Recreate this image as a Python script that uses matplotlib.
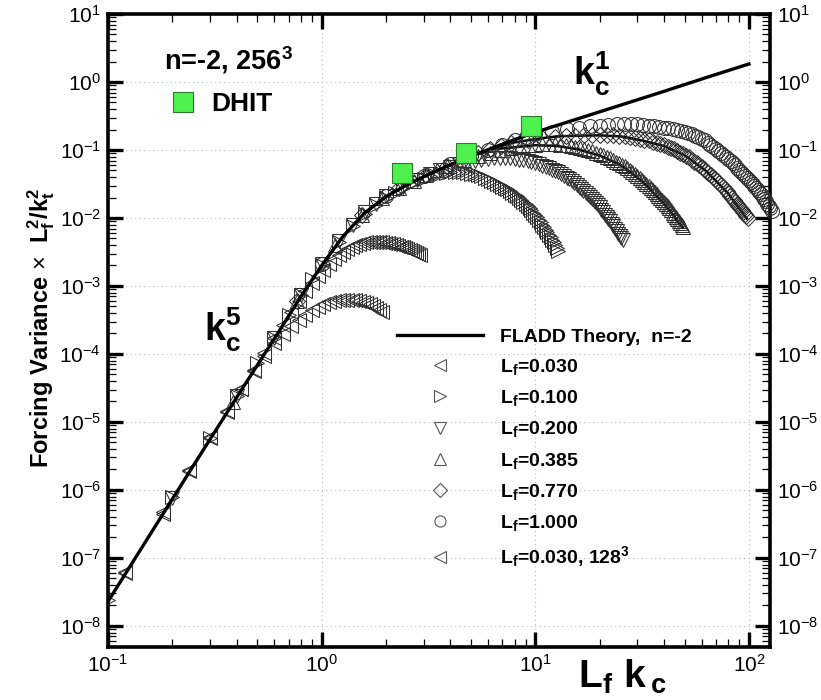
import numpy as np
import matplotlib
matplotlib.use("Agg")
import matplotlib.pyplot as plt
from matplotlib.lines import Line2D
from matplotlib import ticker

plt.rcParams['font.family'] = ['Liberation Sans', 'DejaVu Sans']
plt.rcParams['mathtext.fontset'] = 'custom'
plt.rcParams['mathtext.rm'] = 'Liberation Sans'
plt.rcParams['mathtext.it'] = 'Liberation Sans:italic'
plt.rcParams['mathtext.bf'] = 'Liberation Sans:bold'

# FLADD theory (log10 x, log10 y), infinite resolution
theory_logx = [-1.0, -0.8, -0.6, -0.4, -0.3, -0.2, -0.1, 0.0, 0.1, 0.2, 0.3, 0.4,
               0.5, 0.6, 0.7, 0.8, 0.9, 1.0, 1.2, 1.4, 1.6, 1.8, 2.0]
theory_logy = [-7.64, -6.64, -5.64, -4.65, -4.16, -3.67, -3.17, -2.70, -2.27, -1.93,
               -1.69, -1.51, -1.36, -1.22, -1.09, -0.97, -0.85, -0.74, -0.54, -0.34,
               -0.14, 0.065, 0.265]
# FLADD theory at 256^3 for Lf = 0.385 and 0.770
theory385_logx = [0.8, 0.9, 1.0, 1.1, 1.2, 1.3, 1.4, 1.5, 1.6, 1.69]
theory385_logy = [-0.99, -0.96, -0.93, -0.94, -0.99, -1.08, -1.22, -1.46, -1.78, -2.14]
theory770_logx = [0.8, 0.9, 1.0, 1.1, 1.2, 1.3, 1.4, 1.5, 1.6, 1.7, 1.8, 1.9, 1.99]
theory770_logy = [-0.98, -0.89, -0.84, -0.80, -0.79, -0.785, -0.80, -0.86, -0.94,
                  -1.08, -1.31, -1.63, -2.01]

# wavenumber shells kept from the 256^3 runs
kc_256 = np.r_[1:11, 12:129:2]
# Lf = 0.030 runs were sampled on even shells
kc_030 = np.arange(4, 97, 2)
kc_030_128 = np.arange(4, 65, 2)

# log10 of forcing variance * Lf^2/kt^2 for each run
logfv_100 = [-7.62, -6.11, -5.23, -4.62, -4.14, -3.76, -3.43, -3.14, -2.90, -2.69,
             -2.36, -2.12, -1.94, -1.81, -1.71, -1.63, -1.56, -1.50, -1.46, -1.42,
             -1.39, -1.37, -1.35, -1.34, -1.33, -1.33, -1.33, -1.33, -1.34, -1.35,
             -1.36, -1.37, -1.39, -1.41, -1.43, -1.45, -1.47, -1.50, -1.52, -1.54,
             -1.56, -1.58, -1.61, -1.63, -1.66, -1.68, -1.71, -1.74, -1.77, -1.80,
             -1.83, -1.86, -1.89, -1.92, -1.96, -1.99, -2.03, -2.06, -2.10, -2.13,
             -2.17, -2.21, -2.25, -2.28, -2.32, -2.36, -2.40, -2.44, -2.48]
logfv_200 = [-6.12, -4.62, -3.76, -3.14, -2.68, -2.34, -2.10, -1.91, -1.79, -1.68,
             -1.54, -1.44, -1.36, -1.30, -1.25, -1.21, -1.18, -1.16, -1.14, -1.13,
             -1.12, -1.12, -1.12, -1.12, -1.13, -1.14, -1.15, -1.16, -1.18, -1.19,
             -1.21, -1.23, -1.25, -1.27, -1.29, -1.31, -1.33, -1.36, -1.38, -1.41,
             -1.43, -1.46, -1.49, -1.51, -1.54, -1.57, -1.60, -1.63, -1.66, -1.69,
             -1.72, -1.75, -1.78, -1.81, -1.84, -1.88, -1.91, -1.95, -1.98, -2.02,
             -2.05, -2.09, -2.12, -2.16, -2.19, -2.23, -2.26, -2.30, -2.33]
logfv_385 = [-4.70, -3.22, -2.40, -1.95, -1.71, -1.56, -1.45, -1.37, -1.30, -1.24,
             -1.15, -1.09, -1.04, -1.00, -0.97, -0.95, -0.93, -0.92, -0.91, -0.91,
             -0.91, -0.92, -0.93, -0.94, -0.96, -0.97, -0.99, -1.00, -1.02, -1.04,
             -1.06, -1.08, -1.10, -1.12, -1.14, -1.17, -1.19, -1.22, -1.24, -1.27,
             -1.30, -1.32, -1.35, -1.38, -1.41, -1.44, -1.47, -1.50, -1.53, -1.56,
             -1.59, -1.62, -1.65, -1.68, -1.71, -1.74, -1.77, -1.80, -1.83, -1.86,
             -1.89, -1.92, -1.95, -1.98, -2.01, -2.04, -2.07, -2.10, -2.13]
logfv_770 = [-3.22, -1.95, -1.56, -1.37, -1.23, -1.13, -1.05, -0.99, -0.94, -0.90,
             -0.85, -0.83, -0.81, -0.80, -0.79, -0.785, -0.78, -0.78, -0.78, -0.785,
             -0.79, -0.80, -0.81, -0.82, -0.835, -0.85, -0.86, -0.88, -0.90, -0.91,
             -0.93, -0.95, -0.97, -0.99, -1.01, -1.04, -1.06, -1.09, -1.11, -1.14,
             -1.17, -1.19, -1.22, -1.25, -1.28, -1.31, -1.34, -1.37, -1.40, -1.43,
             -1.46, -1.49, -1.52, -1.55, -1.58, -1.61, -1.64, -1.67, -1.70, -1.73,
             -1.76, -1.79, -1.82, -1.85, -1.88, -1.91, -1.94, -1.97, -2.00]
logfv_1000 = [-2.68, -1.68, -1.38, -1.21, -1.09, -1.00, -0.92, -0.86, -0.81, -0.77,
              -0.73, -0.695, -0.67, -0.65, -0.64, -0.63, -0.625, -0.62, -0.62, -0.625,
              -0.63, -0.64, -0.65, -0.66, -0.67, -0.68, -0.69, -0.70, -0.715, -0.73,
              -0.75, -0.77, -0.79, -0.81, -0.84, -0.86, -0.89, -0.92, -0.95, -0.98,
              -1.01, -1.04, -1.07, -1.10, -1.13, -1.16, -1.19, -1.22, -1.26, -1.29,
              -1.32, -1.35, -1.38, -1.41, -1.44, -1.47, -1.50, -1.53, -1.56, -1.59,
              -1.62, -1.65, -1.69, -1.72, -1.75, -1.79, -1.83, -1.86, -1.90]
logfv_030 = [-7.22, -6.35, -5.72, -5.23, -4.85, -4.52, -4.24, -3.99, -3.77, -3.57,
             -3.39, -3.22, -3.08, -2.96, -2.85, -2.76, -2.68, -2.61, -2.55, -2.50,
             -2.46, -2.43, -2.40, -2.38, -2.37, -2.36, -2.355, -2.35, -2.35, -2.355,
             -2.36, -2.365, -2.37, -2.38, -2.39, -2.40, -2.41, -2.42, -2.43, -2.445,
             -2.46, -2.47, -2.49, -2.505, -2.52, -2.535, -2.55]
logfv_030_128 = [-7.20, -6.33, -5.71, -5.22, -4.84, -4.52, -4.25, -4.03, -3.84, -3.70,
                 -3.59, -3.50, -3.42, -3.36, -3.31, -3.27, -3.24, -3.22, -3.21, -3.20,
                 -3.20, -3.205, -3.21, -3.22, -3.235, -3.25, -3.27, -3.29, -3.32, -3.35, -3.38]

# DHIT reference points
dhit_x = [2.37, 4.76, 9.53]
dhit_y = [0.0454, 0.0893, 0.228]

runs = [
    (0.030, kc_030, logfv_030, '<', 'L$_\\mathbf{f}$=0.030'),
    (0.100, kc_256, logfv_100, '>', 'L$_\\mathbf{f}$=0.100'),
    (0.200, kc_256, logfv_200, 'v', 'L$_\\mathbf{f}$=0.200'),
    (0.385, kc_256, logfv_385, '^', 'L$_\\mathbf{f}$=0.385'),
    (0.770, kc_256, logfv_770, 'D', 'L$_\\mathbf{f}$=0.770'),
    (1.000, kc_256, logfv_1000, 'o', 'L$_\\mathbf{f}$=1.000'),
    (0.030, kc_030_128, logfv_030_128, '<', 'L$_\\mathbf{f}$=0.030, 128$^\\mathbf{3}$'),
]

W, H = 821, 700
fig = plt.figure(figsize=(W / 100, H / 100), dpi=100)
ax = fig.add_axes([108 / W, 53 / H, 662 / W, 633 / H])
ax.set_xscale('log')
ax.set_yscale('log')
ax.set_xlim(0.1, 125.5)
ax.set_ylim(10 ** -8.31, 10)

ax.grid(True, which='major', linestyle=(0, (1, 3)), color='#bbbbbb', linewidth=0.8)
ax.set_axisbelow(True)

mark_col = '#303030'
ax.plot(10 ** np.array(theory_logx), 10 ** np.array(theory_logy), color='black', lw=2.4, zorder=4)
for tx, ty in [(theory385_logx, theory385_logy), (theory770_logx, theory770_logy)]:
    ax.plot(10 ** np.array(tx), 10 ** np.array(ty), color='black', lw=1.8, zorder=2)

handles = [Line2D([], [], color='black', lw=2.4)]
labels = ['FLADD Theory,  n=-2']
for lf, kc, logfv, mk, lab in runs:
    ms = 8.5 if mk == 'D' else 10
    ax.plot(lf * kc, 10 ** np.array(logfv), ls='none', marker=mk, ms=ms, mfc='none',
            mec=mark_col, mew=0.75, zorder=3, clip_on=(lf != 1.0))
    handles.append(Line2D([], [], ls='none', marker=mk, ms=8 if mk != 'D' else 7,
                          mfc='none', mec='#555555', mew=0.8))
    labels.append(lab)

ax.plot(dhit_x, dhit_y, ls='none', marker='s', ms=14, mfc='#4df04d', mec='#2f7a2f',
        mew=0.8, zorder=6)

# axes styling
for sp in ax.spines.values():
    sp.set_linewidth(2.6)
ax.tick_params(which='both', direction='in', top=True, right=True,
               labelright=True, labelsize=15, pad=5)
ax.tick_params(which='major', length=11, width=2.4)
ax.tick_params(which='minor', length=5.5, width=0.9)
ax.xaxis.set_major_locator(ticker.FixedLocator(10.0 ** np.arange(-1, 3)))
ax.yaxis.set_major_locator(ticker.FixedLocator(10.0 ** np.arange(-8, 2)))
ax.yaxis.set_minor_locator(ticker.LogLocator(base=10, subs=np.arange(2, 10), numticks=20))
ax.yaxis.set_minor_formatter(ticker.NullFormatter())
ax.xaxis.set_minor_formatter(ticker.NullFormatter())
ax.xaxis.set_major_formatter(ticker.LogFormatterSciNotation())
ax.yaxis.set_major_formatter(ticker.LogFormatterSciNotation())

fig.text(578 / W, 1 - 688 / H, 'L$_\\mathbf{f}$ k$\\,_\\mathbf{c}$', fontsize=28,
         fontweight='bold', ha='left', va='baseline')
fig.text(41 / W, 1 - 328 / H,
         'Forcing Variance $\\times$  L$_\\mathbf{f}^\\mathbf{2}$/k$_\\mathbf{t}^\\mathbf{2}$',
         rotation=90, ha='center', va='center', fontsize=17, fontweight='bold')

# annotations
fig.text(164 / W, 1 - 60 / H, 'n=-2, 256$^\\mathbf{3}$', fontsize=19.5, fontweight='bold',
         va='center', ha='left')
fig.text(573 / W, 1 - 74 / H, '$\\mathbf{k_c^1}$', fontsize=27, va='center', ha='left')
fig.text(204 / W, 1 - 330 / H, '$\\mathbf{k_c^5}$', fontsize=27, va='center', ha='left')

ax_h = 633
leg1 = ax.legend([Line2D([], [], ls='none', marker='s', ms=14, mfc='#4df04d',
                         mec='#2f7a2f', mew=0.8)], ['DHIT'],
                 loc='center left', bbox_to_anchor=((170 - 108) / 662, (647 - 104) / ax_h),
                 frameon=False, prop={'size': 19, 'weight': 'bold'},
                 handlelength=1.0, handletextpad=0.55, borderpad=0, borderaxespad=0)
ax.add_artist(leg1)

ax.legend(handles, labels, loc='upper left',
          bbox_to_anchor=((397 - 108) / 662, (647 - 328) / ax_h),
          frameon=False, prop={'size': 14, 'weight': 'bold'},
          handlelength=4.43, handletextpad=0.88, labelspacing=0.58,
          borderpad=0, borderaxespad=0)

fig.savefig('out.png', dpi=100)
